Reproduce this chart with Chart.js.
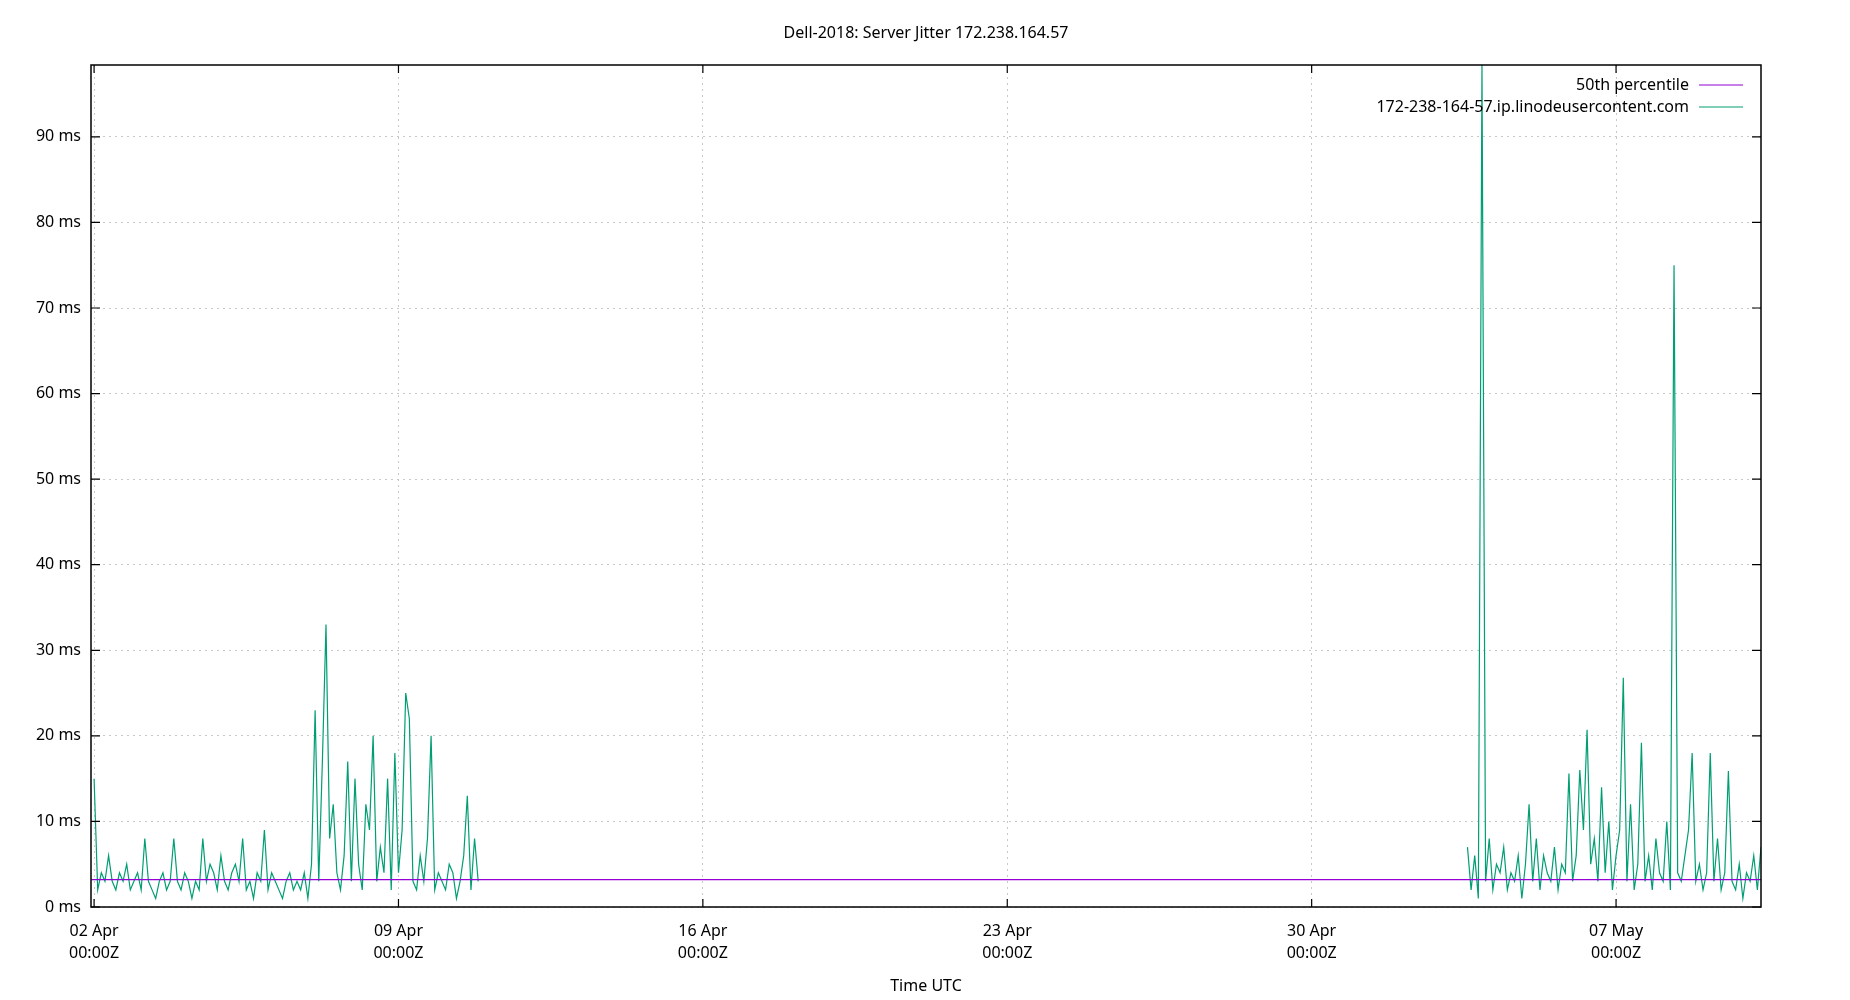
<!DOCTYPE html>
<html><head><meta charset="utf-8">
<script src="https://cdn.jsdelivr.net/npm/chart.js@4"></script>
<style>html,body{margin:0;padding:0;background:#fff}#w{width:1850px;height:1000px}</style>
</head><body><div id="w"><canvas id="c"></canvas></div>
<script>
const titleText = "Dell-2018: Server Jitter 172.238.164.57";
const seriesName = "172-238-164-57.ip.linodeusercontent.com";
const medianName = "50th percentile";
const medianValue = 3.2;
const xTickHours = [0,168,336,504,672,840];
const xTickLabels = [["02 Apr","00:00Z"],["09 Apr","00:00Z"],["16 Apr","00:00Z"],["23 Apr","00:00Z"],["30 Apr","00:00Z"],["07 May","00:00Z"]];
const yTicks = [0,10,20,30,40,50,60,70,80,90];
const seg1Start = 0, seg2Start = 758, stepHours = 2;
const seg1 = [15,2,4,3,6,3,2,4,3,5,2,3, 4,2,8,3,2,1,3,4,2,3,8,3, 2,4,3,1,3,2,8,3,5,4,2,6,
 3,2,4,5,3,8,2,3,1,4,3,9, 2,4,3,2,1,3,4,2,3,2,4,1, 5,23,3,17,33,8,12,4,2,6,17,3,
 15,5,2,12,9,20,3,7,4,15,2,18, 4,9,25,22,3,2,6,3,8,20,2,4, 3,2,5,4,1,3,6,13,2,8,3];
const seg2 = [7,2,6,1,98.5,3,8,2,5,4,7,2, 4,3,6,1,5,12,3,8,2,6,4,3, 7,2,5,4,15.6,3,6,16,9,20.7,5,8,
 3,14,4,10,2,6,9,26.8,3,12,2,5, 19.2,3,6,2,8,4,3,10,2,75,4,3, 6,9,18,3,5,2,4,18,3,8,2,4,
 15.9,3,2,5,1,4,3,6,2,7];
const xMin = -1.7, xMax = 920, yMax = 98.4;

const pts = [];
seg1.forEach((v,i)=>pts.push({x:seg1Start+i*stepHours,y:v}));
pts.push({x:(seg1Start+seg1.length*stepHours+seg2Start)/2,y:null});
seg2.forEach((v,i)=>pts.push({x:seg2Start+i*stepHours,y:v}));

const FONT = "'Noto Sans', sans-serif";
const deco = {
  id:'deco',
  afterDraw(ch){
    const c=ch.ctx, a=ch.chartArea, xs=ch.scales.x, ys=ch.scales.y;
    c.save();
    c.strokeStyle='#000'; c.lineWidth=1.5;
    c.strokeRect(a.left,a.top,a.right-a.left,a.bottom-a.top);
    c.lineWidth=1.2;
    xTickHours.forEach(h=>{const p=xs.getPixelForValue(h);
      c.beginPath();c.moveTo(p,a.bottom);c.lineTo(p,a.bottom-8);c.moveTo(p,a.top);c.lineTo(p,a.top+8);c.stroke();});
    yTicks.forEach(v=>{const p=ys.getPixelForValue(v);
      c.beginPath();c.moveTo(a.left,p);c.lineTo(a.left+9,p);c.moveTo(a.right,p);c.lineTo(a.right-9,p);c.stroke();});
    c.fillStyle='#000'; c.font="16px "+FONT; c.textAlign='center'; c.textBaseline='middle';
    c.fillText(titleText,(a.left+a.right)/2,33);
    c.fillText("Time UTC",(a.left+a.right)/2,986);
    c.textAlign='right';
    const items=[[medianName,'#9400d3'],[seriesName,'#009e73']];
    items.forEach((it,i)=>{const y=85+i*22;
      c.fillStyle='#000'; c.fillText(it[0],a.right-72,y);
      c.strokeStyle=it[1]; c.lineWidth=1.2; c.beginPath(); c.moveTo(a.right-62,y); c.lineTo(a.right-18,y); c.stroke();});
    c.restore();
  }
};
new Chart(document.getElementById('c'),{
  type:'line',
  data:{datasets:[
    {label:medianName,data:[{x:xMin,y:medianValue},{x:xMax,y:medianValue}],borderColor:'#9400d3',borderWidth:1.2,pointRadius:0},
    {label:seriesName,data:pts,borderColor:'#009e73',borderWidth:1.2,pointRadius:0,spanGaps:false}
  ]},
  options:{
    responsive:true,maintainAspectRatio:false,animation:false,
    layout:{padding:{top:65,right:89,left:0,bottom:0}},
    plugins:{legend:{display:false},tooltip:{enabled:false}},
    scales:{
      x:{type:'linear',min:xMin,max:xMax,
        afterBuildTicks(s){s.ticks=xTickHours.map(v=>({value:v}));},
        afterFit(s){s.height=93;},
        border:{display:false,dash:[2,4]},
        grid:{color:'#c8c8c8',drawTicks:false,lineWidth:1},
        ticks:{autoSkip:false,maxRotation:0,padding:13,color:'#000',font:{family:FONT,size:16,lineHeight:1.4},
          callback:(v)=>{const i=xTickHours.indexOf(v);return i>=0?xTickLabels[i]:'';}}},
      y:{min:0,max:yMax,
        afterBuildTicks(s){s.ticks=yTicks.map(v=>({value:v}));},
        afterFit(s){s.width=91;},
        border:{display:false,dash:[2,4]},
        grid:{color:'#c8c8c8',drawTicks:false,lineWidth:1},
        ticks:{padding:10,color:'#000',font:{family:FONT,size:16},callback:v=>v+' ms'}}
    }
  },
  plugins:[deco]
});
</script></body></html>
